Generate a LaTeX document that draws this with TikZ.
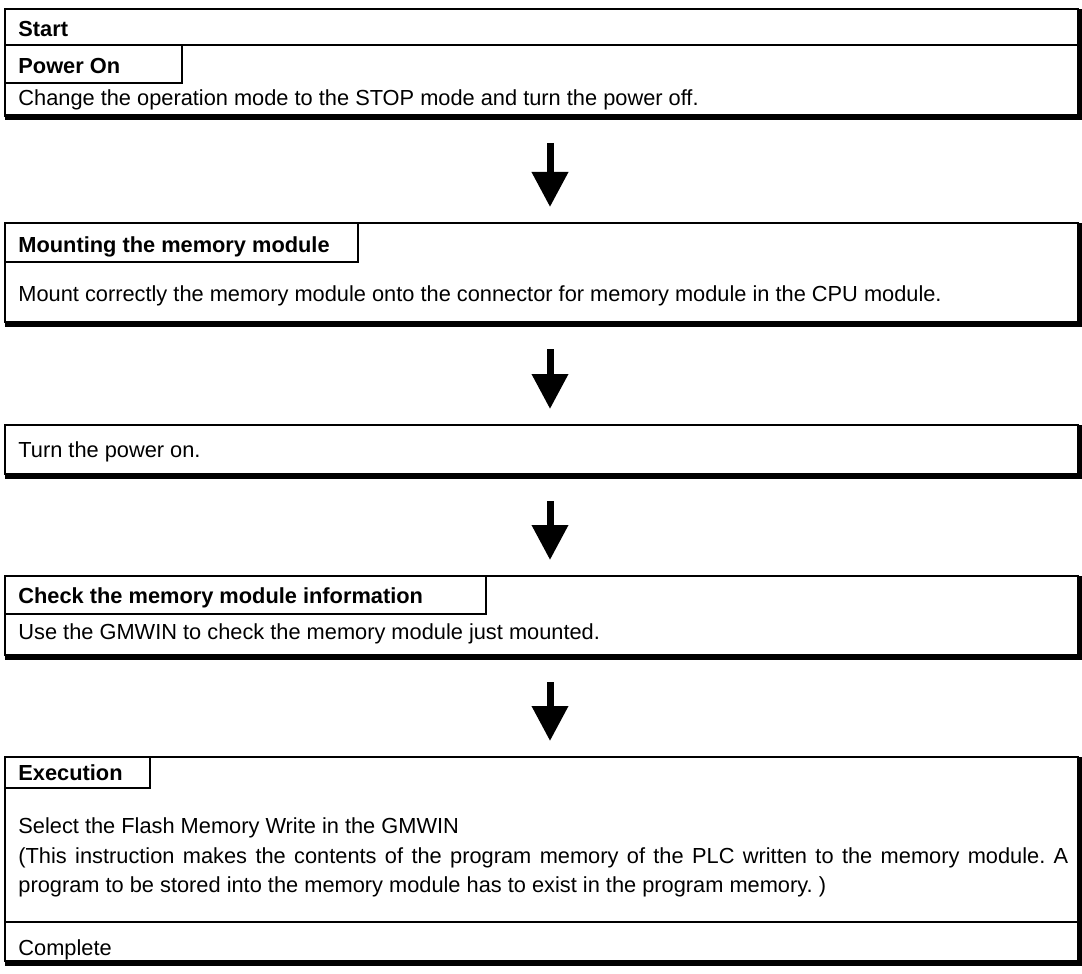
\documentclass[tikz,border=0pt]{standalone}
\usepackage{fontspec}
\setmainfont{Liberation Sans}
\frenchspacing
\usetikzlibrary{positioning, arrows.meta, fit}

\begin{document}
\begin{tikzpicture}[
    x=0.5pt, y=-0.5pt,
    % Plain boxes with a heavy lower/right edge
    stepbox/.style={
        rectangle,
        draw=black,
        line width=1pt,
        inner sep=0pt,
        outer sep=0pt
    },
    headbox/.style={
        rectangle,
        draw=black,
        line width=1pt,
        inner sep=0pt,
        outer sep=0pt
    },
    shadowedge/.style={
        line width=3pt,
        black
    },
    headtext/.style={
        anchor=base west,
        inner sep=0pt,
        font=\fontsize{10.9pt}{13pt}\selectfont\bfseries
    },
    bodytext/.style={
        anchor=base west,
        inner sep=0pt,
        font=\fontsize{10.9pt}{13pt}\selectfont
    },
    arrow/.style={
        -{Triangle[width=17.5pt, length=17.5pt]},
        line width=3.5pt,
        shorten <=13.5pt,
        shorten >=8pt
    }
]
\useasboundingbox (0,0) rectangle (1082,974);

% === Step 1: Start / Power On ===
\node[stepbox, fit={(5,9) (1078,116)}] (box1) {};
\node[headbox, fit={(5,9) (1078,45)}] (startrow) {};
\node[headbox, fit={(5,45) (182,83)}] (poweron) {};
\node[headtext] (starttxt) at (18,37) {Start};
\node[headtext] (powertxt) at (18,74) {Power On};
\node[bodytext] (stoptxt) at (18,105) {Change the operation mode to the STOP mode and turn the power off.};

% === Step 2: Mounting ===
\node[stepbox, fit={(5,223) (1078,322)}] (box2) {};
\node[headbox, fit={(5,223) (358,262)}] (mounting) {};
\node[headtext] (mounttitle) at (18,252) {Mounting the memory module};
\node[bodytext] (mounttxt) at (18,301) {Mount correctly the memory module onto the connector for memory module in the CPU module.};

% === Step 3: Power on ===
\node[stepbox, fit={(5,425) (1078,474)}] (box3) {};
\node[bodytext] (powerontxt) at (18,457) {Turn the power on.};

% === Step 4: Check ===
\node[stepbox, fit={(5,576) (1078,655)}] (box4) {};
\node[headbox, fit={(5,576) (486,614)}] (check) {};
\node[headtext] (checktitle) at (18,603) {Check the memory module information};
\node[bodytext] (checktxt) at (18,639) {Use the GMWIN to check the memory module just mounted.};

% === Step 5: Execution / Complete ===
\node[stepbox, fit={(5,757) (1078,961)}] (box5) {};
\node[headbox, fit={(5,757) (150,788)}] (execution) {};
\node[headbox, fit={(5,922) (1078,961)}] (completerow) {};
\node[headtext] (exectitle) at (18,780) {Execution};
\node[bodytext] (exectxt1) at (18,833) {Select the Flash Memory Write in the GMWIN};
\node[bodytext] (exectxt2) at (18,863) {\makebox[525pt][s]{(This instruction makes the contents of the program memory of the PLC written to the memory module. A}};
\node[bodytext] (exectxt3) at (18,892) {program to be stored into the memory module has to exist in the program memory. )};
\node[bodytext] (completetxt) at (18,955) {Complete};

% === Heavy edges ===
\foreach \b in {box1, box2, box3, box4, box5}
    \draw[shadowedge] ([yshift=-0.75pt]\b.south west) -- ([xshift=0.75pt, yshift=-0.75pt]\b.south east) -- ([xshift=0.75pt]\b.north east);

% === Arrows ===
\draw[arrow] ([xshift=4.25pt]box1.south) -- ([xshift=4.25pt]box2.north);
\draw[arrow] ([xshift=4.25pt]box2.south) -- ([xshift=4.25pt]box3.north);
\draw[arrow] ([xshift=4.25pt]box3.south) -- ([xshift=4.25pt]box4.north);
\draw[arrow] ([xshift=4.25pt]box4.south) -- ([xshift=4.25pt]box5.north);

\end{tikzpicture}
\end{document}
